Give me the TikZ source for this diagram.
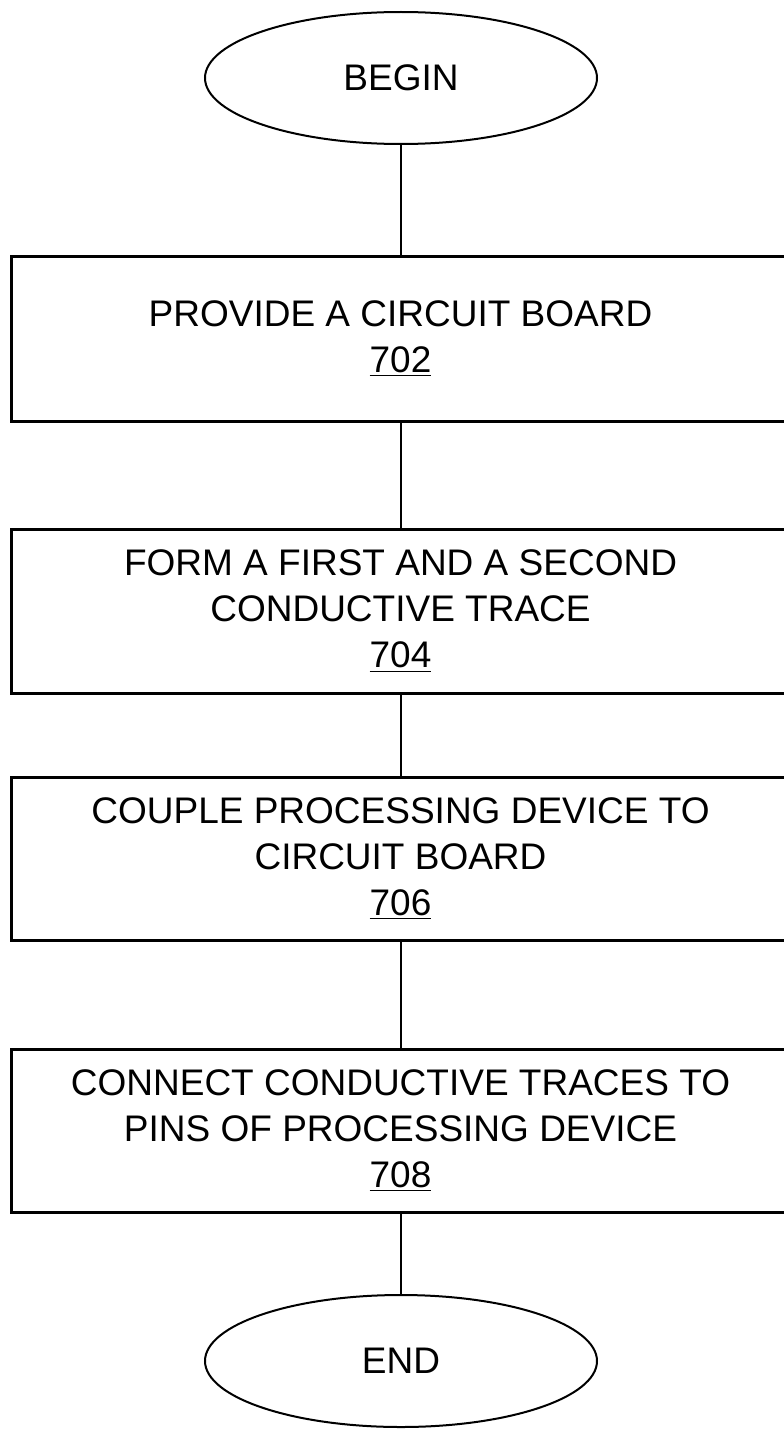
\documentclass[tikz,border=0pt]{standalone}
\usepackage{fontspec}
\setmainfont{Liberation Sans}
\usetikzlibrary{shapes.geometric}
\begin{document}
\begin{tikzpicture}[x=0.5pt,y=-0.5pt,
  txt/.style={font=\fontsize{18.5}{23}\selectfont},
  stepbox/.style={draw, line width=1.5pt, minimum width=389.5pt, inner sep=0pt, outer sep=0pt, align=center, txt},
  term/.style={draw, ellipse, line width=1pt, minimum width=196pt, minimum height=66pt, inner sep=0pt, outer sep=0pt, txt},
  conn/.style={line width=1pt}]
\useasboundingbox (0,0) rectangle (783,1429);
\node[term] (begin) at (401,78) {BEGIN};
\node[stepbox, minimum height=82.5pt] (b702) at (400.5,338.5) {PROVIDE A CIRCUIT BOARD\\\underline{702}};
\node[stepbox, minimum height=82pt] (b704) at (400.5,611) {FORM A FIRST AND A SECOND\\CONDUCTIVE TRACE\\\underline{704}};
\node[stepbox, minimum height=81.5pt] (b706) at (400.5,858.5) {COUPLE PROCESSING DEVICE TO\\CIRCUIT BOARD\\\underline{706}};
\node[stepbox, minimum height=81.5pt] (b708) at (400.5,1130.5) {CONNECT CONDUCTIVE TRACES TO\\PINS OF PROCESSING DEVICE\\\underline{708}};
\node[term] (end) at (401,1361) {END};
\draw[conn] (begin.south) -- (begin.south |- b702.north);
\draw[conn] (begin.south |- b702.south) -- (begin.south |- b704.north);
\draw[conn] (begin.south |- b704.south) -- (begin.south |- b706.north);
\draw[conn] (begin.south |- b706.south) -- (begin.south |- b708.north);
\draw[conn] (begin.south |- b708.south) -- (end.north);
\end{tikzpicture}
\end{document}
